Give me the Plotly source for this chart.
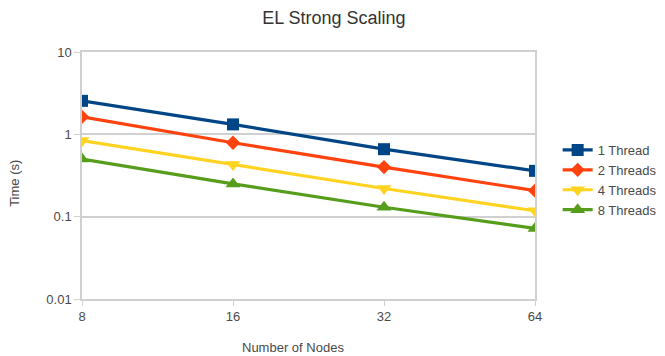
import plotly.graph_objects as go

nodes = [8, 16, 32, 64]
series_names = ["1 Thread", "2 Threads", "4 Threads", "8 Threads"]
t1 = [2.55, 1.32, 0.66, 0.36]
t2 = [1.63, 0.79, 0.40, 0.207]
t4 = [0.84, 0.43, 0.22, 0.118]
t8 = [0.50, 0.25, 0.13, 0.072]
y_ticks = [0.01, 0.1, 1, 10]
y_tick_labels = ["0.01", "0.1", "1", "10"]

colors = ["#004586", "#ff420e", "#ffd320", "#579d1c"]
symbols = ["square", "diamond", "triangle-down", "triangle-up"]
sizes = [12, 11, 13, 13]

fig = go.Figure()
for name, vals, c, s, sz in zip(series_names, [t1, t2, t4, t8], colors, symbols, sizes):
    fig.add_trace(go.Scatter(
        x=nodes, y=vals, name=name, mode="lines+markers",
        line=dict(color=c, width=3.2),
        marker=dict(symbol=s, size=sz, color=c),
    ))

grid = "#d0d0d0"
txt = "#4a4a4a"
fig.update_layout(
    width=657, height=348,
    margin=dict(l=74, r=130, t=44, b=57, autoexpand=False),
    paper_bgcolor="white", plot_bgcolor="white",
    font=dict(family="Liberation Sans, Arial, sans-serif", color=txt, size=13),
    title=dict(text="EL Strong Scaling", x=0.496, xanchor="center", y=0.971, yanchor="middle",
               font=dict(size=18, color="#333333")),
    xaxis=dict(
        type="log", tickvals=nodes, ticktext=[str(n) for n in nodes],
        range=[0.90309, 1.80618], showgrid=False, zeroline=False,
        showline=True, linecolor=grid, linewidth=1.5, mirror=True,
        ticks="outside", ticklen=5, tickcolor=grid, automargin=False,
        tickfont=dict(size=13, color=txt),
    ),
    yaxis=dict(
        type="log", tickvals=y_ticks, ticktext=y_tick_labels,
        range=[-2, 1], showgrid=True, gridcolor=grid, gridwidth=1.5, zeroline=False,
        showline=True, linecolor=grid, linewidth=1.5, mirror=True,
        ticks="outside", ticklen=6, tickcolor=grid, automargin=False,
        tickfont=dict(size=13, color=txt),
    ),
    legend=dict(x=1.05, y=0.664, xanchor="left", yanchor="top",
                font=dict(size=13, color=txt), tracegroupgap=0,
                itemwidth=30, bgcolor="rgba(0,0,0,0)"),
    annotations=[
        dict(text="Number of Nodes", xref="paper", yref="paper", x=0.466, y=-0.198,
             xanchor="center", yanchor="middle", showarrow=False,
             font=dict(size=13, color=txt)),
        dict(text="Time (s)", xref="paper", yref="paper", x=-0.148, y=0.47,
             xanchor="center", yanchor="middle", showarrow=False, textangle=-90,
             font=dict(size=13, color=txt)),
    ],
)

fig.write_html("out.html")
